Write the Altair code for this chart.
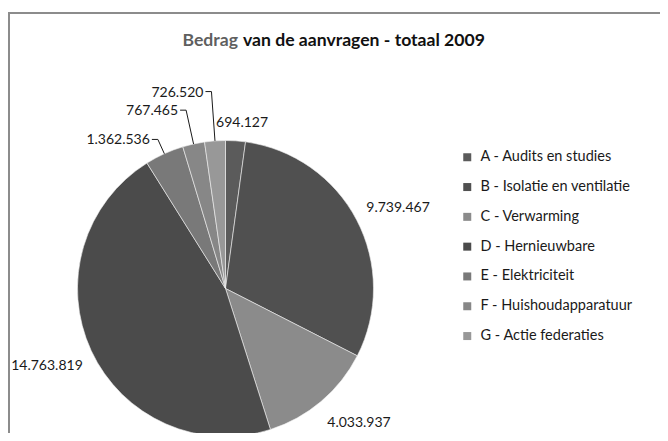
import math
import altair as alt
import pandas as pd

# ---- data ----
categories = [
    "A - Audits en studies",
    "B - Isolatie en ventilatie",
    "C - Verwarming",
    "D - Hernieuwbare",
    "E - Elektriciteit",
    "F - Huishoudapparatuur",
    "G - Actie federaties",
]
values = [694127, 9739467, 4033937, 14763819, 1362536, 767465, 726520]
colors = ["#5b5b5b", "#505050", "#8b8b8b", "#4b4b4b", "#797979", "#878787", "#989898"]
title_parts = ["Bedrag", "van de aanvragen - totaal 2009"]

# ---- layout (style) ----
W, H = 652, 425
CX, CY, R = 217.5, 280.5, 148
FONT = "Lato"
# radial labels: (radius factor, angle nudge in degrees)
radial_layout = {0: (1.127, 1.8), 1: (1.285, 2.7), 2: (1.282, -4.4), 3: (1.316, 1.3)}
# leader labels: elbow radius factor
leader_layout = {4: 1.106, 5: 1.234, 6: 1.334}

def fmt(v):
    return f"{v:,}".replace(",", ".")

total = sum(values)
df = pd.DataFrame({"cat": categories, "value": values, "idx": range(len(values))})

mids = []
acc = 0
for v in values:
    mids.append((acc + v / 2) / total * 2 * math.pi)
    acc += v

rad_rows = []
for i, (d, nud) in radial_layout.items():
    a = mids[i] + math.radians(nud)
    rad_rows.append({"u": d * math.sin(a), "v": d * math.cos(a), "t": fmt(values[i])})
rad_df = pd.DataFrame(rad_rows)

lead_rows, seg_rows = [], []
for i, d in leader_layout.items():
    a = mids[i]
    eu, ev = d * math.sin(a), d * math.cos(a)
    su, sv = math.sin(a), math.cos(a)
    seg_rows.append({"u": su, "v": sv, "u2": eu, "v2": ev})
    seg_rows.append({"u": eu, "v": ev, "u2": eu - 6 / R, "v2": ev})
    lead_rows.append({"u": eu - 8 / R, "v": ev - 1 / R, "t": fmt(values[i])})
lead_df = pd.DataFrame(lead_rows)
seg_df = pd.DataFrame(seg_rows)

xs = alt.Scale(domain=[-1, 1], range=[CX - R, CX + R])
ys = alt.Scale(domain=[-1, 1], range=[CY + R, CY - R])

arcs = alt.Chart(df).mark_arc(outerRadius=R, stroke="#f2f2f2", strokeWidth=0.6).encode(
    theta=alt.Theta("value:Q", stack=True),
    order=alt.Order("idx:Q"),
    color=alt.Color(
        "cat:N",
        scale=alt.Scale(domain=categories, range=colors),
        legend=alt.Legend(
            title=None, orient="none", legendX=452, legendY=142,
            symbolType="square", symbolSize=64, symbolStrokeWidth=0,
            symbolOpacity=1,
            labelFont=FONT, labelFontSize=14.5, labelColor="#1a1a1a",
            rowPadding=14.8, labelOffset=6, padding=0,
        ),
    ),
    x=alt.XDatum(0, type="quantitative", scale=xs, axis=None),
    y=alt.YDatum(0, type="quantitative", scale=ys, axis=None),
)

segs = alt.Chart(seg_df).mark_rule(color="#1a1a1a", strokeWidth=1).encode(
    x=alt.X("u:Q", scale=xs, axis=None),
    y=alt.Y("v:Q", scale=ys, axis=None),
    x2="u2:Q",
    y2="v2:Q",
)

rad_text = alt.Chart(rad_df).mark_text(
    font=FONT, fontSize=14, color="#1a1a1a", align="center", baseline="middle"
).encode(
    x=alt.X("u:Q", scale=xs, axis=None),
    y=alt.Y("v:Q", scale=ys, axis=None),
    text="t:N",
)

lead_text = alt.Chart(lead_df).mark_text(
    font=FONT, fontSize=14, color="#1a1a1a", align="right", baseline="middle"
).encode(
    x=alt.X("u:Q", scale=xs, axis=None),
    y=alt.Y("v:Q", scale=ys, axis=None),
    text="t:N",
)

title1 = alt.Chart(pd.DataFrame({"t": [title_parts[0]]})).mark_text(
    font=FONT, fontSize=17.6, fontWeight="bold", color="#5f5f5f", align="right", baseline="alphabetic"
).encode(x=alt.value(230), y=alt.value(38), text="t:N")

title2 = alt.Chart(pd.DataFrame({"t": [title_parts[1]]})).mark_text(
    font=FONT, fontSize=17.6, fontWeight="bold", color="#111111", align="left", baseline="alphabetic"
).encode(x=alt.value(235), y=alt.value(38), text="t:N")

frame_data = alt.Data(values=[{"k": 1}])
frame_left = alt.Chart(frame_data).mark_rule(color="#8c8c8c", strokeWidth=2).encode(
    x=alt.value(1), y=alt.value(5), y2=alt.value(H)
)
frame_top = alt.Chart(frame_data).mark_rule(color="#8c8c8c", strokeWidth=2).encode(
    x=alt.value(0), x2=alt.value(W), y=alt.value(5)
)

chart = alt.layer(
    frame_left, frame_top, arcs, segs, rad_text, lead_text, title1, title2
).properties(width=W, height=H, padding=0, autosize="none").configure_view(stroke=None)

chart.save("out.html", embed_options={"renderer": "svg", "actions": False})
